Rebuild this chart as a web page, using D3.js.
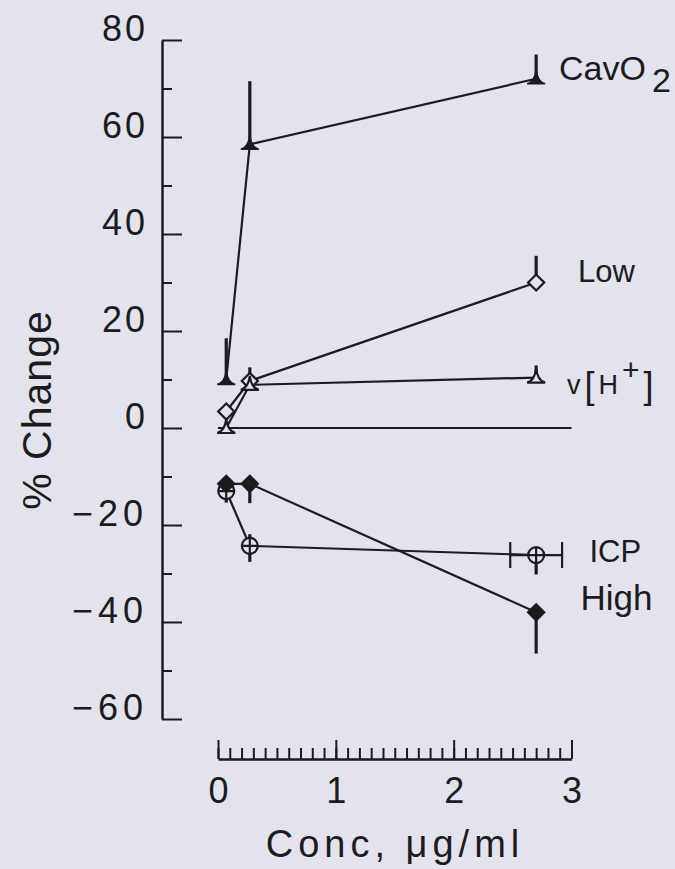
<!DOCTYPE html>
<html>
<head>
<meta charset="utf-8">
<script src="https://cdn.jsdelivr.net/npm/d3@7"></script>
<style>
  html, body { margin: 0; padding: 0; background: #e2e3ed; }
  svg { display: block; font-family: "Liberation Sans", Arial, sans-serif; }
</style>
</head>
<body>
<script>
// Values (% change vs drug concentration)
const concValues = [0.07, 0.27, 2.7];

const cavo2Values = [10, 58.5, 72];
const cavo2ErrUp = [8.5, 13, 5];

const lowValues = [3.4, 9.7, 30];
const lowErrUp = [0, 2.8, 5.5];

const vhValues = [0, 8.9, 10.4];
const vhErrUp = [0, 0, 2.5];

const icpValues = [-13, -24.3, -26.2];
const icpErrUp = [0, 2.4, 0];
const icpErrDown = [2.4, 3.3, 4];
const icpConcErr = [0, 0, 0.22];

const highValues = [-11.5, -11.5, -38];
const highErrDown = [0, 4, 8.5];

const yTickValues = [80, 60, 40, 20, 0, -20, -40, -60];
const yMinorTicks = [70, 50, 30, 10, -10, -30, -50];
const xTickValues = [0, 1, 2, 3];

const svg_width = 675, svg_height = 869;
const ink = '#1b1b20';
const paper = '#e2e3ed';

const svg = d3.select('body').append('svg')
    .attr('width', svg_width)
    .attr('height', svg_height);

svg.append('rect').attr('width', svg_width).attr('height', svg_height).attr('fill', paper);

const x = d3.scaleLinear().domain([0, 3]).range([218, 571.5]);
const y = d3.scaleLinear().domain([-60, 80]).range([719, 40]);

// ---- y axis (ticks point inward, labels sit on the tick line)
const yAxisX = 162;
svg.append('g').attr('transform', `translate(${yAxisX},0)`)
    .call(d3.axisLeft(y).tickValues(yMinorTicks).tickSize(-10).tickSizeOuter(0).tickFormat(''))
    .call(g => g.select('path.domain').remove())
    .selectAll('.tick line').attr('stroke', ink).attr('stroke-width', 2);

const gy = svg.append('g').attr('transform', `translate(${yAxisX},0)`);
gy.call(d3.axisLeft(y).tickValues(yTickValues).tickSize(-20).tickSizeOuter(0).tickPadding(14)
    .tickFormat(d => d < 0 ? '\u2212' + Math.abs(d) : d));
gy.selectAll('path.domain').attr('stroke', ink).attr('stroke-width', 2.5);
gy.selectAll('.tick line').attr('stroke', ink).attr('stroke-width', 2);
gy.selectAll('.tick text')
    .attr('dy', '0.02em')
    .attr('fill', ink)
    .style('font-size', '36px')
    .style('letter-spacing', '3px');
gy.selectAll('.tick text').filter(d => d < 0).style('letter-spacing', '5px');

// ---- x axis (detached, ticks up, labels below)
const xAxisY = 759;
svg.append('g').attr('transform', `translate(0,${xAxisY})`)
    .call(d3.axisBottom(x).ticks(30).tickSize(-11).tickSizeOuter(0).tickFormat(''))
    .call(g => g.select('path.domain').remove())
    .selectAll('.tick line').attr('stroke', ink).attr('stroke-width', 2);

const gx = svg.append('g').attr('transform', `translate(0,${xAxisY})`);
gx.call(d3.axisBottom(x).tickValues(xTickValues).tickSize(-19).tickSizeOuter(0).tickPadding(18).tickFormat(d3.format('d')));
gx.selectAll('path.domain').attr('stroke', ink).attr('stroke-width', 2.5);
gx.selectAll('.tick line').attr('stroke', ink).attr('stroke-width', 2);
gx.selectAll('.tick text').attr('fill', ink).style('font-size', '36px');

// ---- axis titles
svg.append('text')
    .attr('transform', `translate(51,${410}) rotate(-90)`)
    .attr('text-anchor', 'middle')
    .attr('fill', ink)
    .style('font-size', '41px')
    .style('letter-spacing', '1px')
    .text('% Change');

svg.append('text')
    .attr('x', 395).attr('y', 857)
    .attr('text-anchor', 'middle')
    .attr('fill', ink)
    .style('font-size', '38px')
    .style('letter-spacing', '5px')
    .text('Conc, \u03bcg/ml');

// ---- zero reference line
svg.append('line')
    .attr('x1', x(0)).attr('x2', x(3))
    .attr('y1', y(0)).attr('y2', y(0))
    .attr('stroke', ink).attr('stroke-width', 2);

// ---- series
const zeros = [0, 0, 0];
const series = [
    { name: 'CavO2', values: cavo2Values, up: cavo2ErrUp, down: zeros, xerr: zeros, marker: 'triFilled' },
    { name: 'Low', values: lowValues, up: lowErrUp, down: zeros, xerr: zeros, marker: 'diamondOpen' },
    { name: 'v[H+]', values: vhValues, up: vhErrUp, down: zeros, xerr: zeros, marker: 'triOpen' },
    { name: 'ICP', values: icpValues, up: icpErrUp, down: icpErrDown, xerr: icpConcErr, marker: 'circleCross' },
    { name: 'High', values: highValues, up: zeros, down: highErrDown, xerr: zeros, marker: 'diamondFilled' }
];

const line = d3.line().x(d => x(d.c)).y(d => y(d.v));
const points = s => s.values.map((v, i) => ({ c: concValues[i], v, up: s.up[i], down: s.down[i], xe: s.xerr[i] }));

// connecting lines
svg.append('g').selectAll('path')
    .data(series).enter().append('path')
    .attr('d', s => line(points(s)))
    .attr('fill', 'none').attr('stroke', ink).attr('stroke-width', 2.2);

// error bars
const eg = svg.append('g').attr('stroke', ink).attr('stroke-width', 3.2);
series.forEach(s => {
    points(s).forEach(p => {
        if (p.up > 0) eg.append('line').attr('x1', x(p.c)).attr('x2', x(p.c)).attr('y1', y(p.v)).attr('y2', y(p.v + p.up));
        if (p.down > 0) eg.append('line').attr('x1', x(p.c)).attr('x2', x(p.c)).attr('y1', y(p.v)).attr('y2', y(p.v - p.down));
        if (p.xe > 0) {
            eg.append('line').attr('x1', x(p.c - p.xe)).attr('x2', x(p.c + p.xe)).attr('y1', y(p.v)).attr('y2', y(p.v)).attr('stroke-width', 2.2);
            [p.c - p.xe, p.c + p.xe].forEach(c => {
                eg.append('line').attr('x1', x(c)).attr('x2', x(c)).attr('y1', y(p.v) - 13).attr('y2', y(p.v) + 13).attr('stroke-width', 2.2);
            });
        }
    });
});

// markers
const pedestal = 'M-9,5Q-1.5,3 0,-9Q1.5,3 9,5Z';
const mg = svg.append('g');
series.forEach(s => {
    points(s).forEach(p => {
        const g = mg.append('g').attr('transform', `translate(${x(p.c)},${y(p.v)})`);
        if (s.marker === 'triFilled') {
            g.append('path').attr('d', pedestal).attr('fill', ink).attr('stroke', ink).attr('stroke-width', 1.5);
        } else if (s.marker === 'triOpen') {
            g.append('path').attr('d', pedestal).attr('fill', paper).attr('stroke', ink).attr('stroke-width', 2.2);
        } else if (s.marker === 'diamondOpen' || s.marker === 'diamondFilled') {
            g.append('path')
                .attr('d', d3.symbol().type(d3.symbolSquare).size(130)())
                .attr('transform', 'rotate(45)')
                .attr('fill', s.marker === 'diamondFilled' ? ink : paper)
                .attr('stroke', ink).attr('stroke-width', 2.2);
        } else if (s.marker === 'circleCross') {
            g.append('circle').attr('r', 8).attr('fill', paper).attr('stroke', ink).attr('stroke-width', 2.2);
            g.append('path').attr('d', 'M-8,0H8M0,-8V8').attr('stroke', ink).attr('stroke-width', 2.2);
        }
    });
});

// ---- series labels at the right end
const labelLayout = {
    'CavO2': { dx: -12.5, dy: 1, size: 34 },
    'Low': { dx: 6.5, dy: -1, size: 31 },
    'v[H+]': { dx: -4.5, dy: 16, size: 27 },
    'ICP': { dx: 18, dy: 7, size: 31 },
    'High': { dx: 9, dy: -2, size: 35 }
};

series.forEach(s => {
    const L = labelLayout[s.name];
    const last = s.values[s.values.length - 1];
    const t = svg.append('text')
        .attr('x', x(3) + L.dx)
        .attr('y', y(last) + L.dy)
        .attr('fill', ink)
        .style('font-size', L.size + 'px');
    if (s.name === 'CavO2') {
        t.append('tspan').text('CavO');
        t.append('tspan').attr('dx', 6).attr('dy', 12).text('2');
    } else if (s.name === 'v[H+]') {
        t.style('letter-spacing', '4px');
        t.append('tspan').text('v');
        t.append('tspan').style('font-size', '36px').attr('dy', 4).text('[');
        t.append('tspan').attr('dy', -4).text('H');
        t.append('tspan').attr('dy', -14).style('font-size', '30px').text('+');
        t.append('tspan').attr('dy', 18).style('font-size', '36px').text(']');
    } else {
        t.text(s.name);
    }
});
</script>
</body>
</html>
